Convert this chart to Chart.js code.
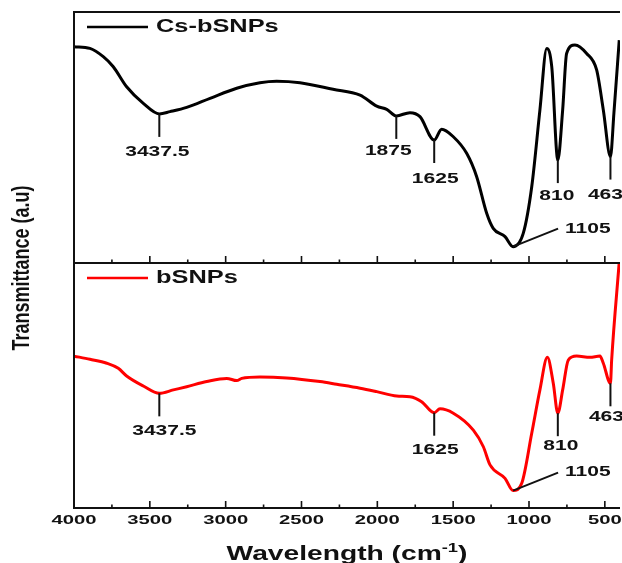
<!DOCTYPE html>
<html>
<head>
<meta charset="utf-8">
<script src="https://cdn.jsdelivr.net/npm/chart.js@4.4.1/dist/chart.umd.min.js"></script>
<style>
  html, body { margin: 0; padding: 0; background: #fff; }
  #ftir { display: block; }
</style>
</head>
<body>
<canvas id="ftir" width="622" height="563"></canvas>
<script>
// Cs-bSNPs spectrum (upper panel)
const csWave = [4000,3895,3807,3741,3653,3543,3437.5,3367,3257,3103,2927,2774,2664,2510,2292,2114,2004,1938,1875,1785,1719,1625,1576,1499,1411,1345,1279,1236,1158,1105,1038,982,928,883,850,810,778,752,697,620,554,510,463,440,405];
const csTrans = [86.2,85.5,82.2,78.2,70.2,63.6,59.4,60.3,62.0,65.6,69.6,71.8,72.4,71.8,69.2,66.9,62.5,61.2,58.6,59.9,58.3,49.0,53.3,50.3,43.7,34.4,19.8,13.8,10.5,6.5,11.8,30.4,61.0,85.5,78.2,41.0,61.0,83.5,86.9,83.5,76.9,61.0,42.4,59.8,88.8];

// bSNPs spectrum (lower panel)
const bsWave = [4000,3895,3784,3708,3653,3543,3437.5,3345,3257,3125,2993,2927,2894,2774,2598,2378,2268,2114,2004,1872,1785,1708,1625,1587,1499,1367,1301,1257,1158,1105,1048,982,928,879,840,810,778,741,686,598,532,510,463,455,405];
const bsTrans = [62.0,60.7,59.1,57.0,53.9,49.8,46.8,48.2,49.5,51.6,52.9,52.0,52.9,53.5,53.1,51.6,50.5,48.9,47.5,45.7,45.4,43.4,38.9,40.5,38.7,31.8,25.0,17.6,12.1,7.1,10.1,30.5,48.2,61.5,50.9,38.7,48.2,60.4,62.0,61.5,62.0,59.1,50.9,60.4,100.5];

// marked bands
const csPeaks = [3437.5,1875,1625,1105,810,463];
const bsPeaks = [3437.5,1625,1105,810,463];

const xTickValues = [4000,3500,3000,2500,2000,1500,1000,500];
const seriesNames = ['Cs-bSNPs','bSNPs'];

const FONT = '"Liberation Sans", Arial, sans-serif';

function stretchedText(ctx, s, x, y, size, align, sx) {
  ctx.save();
  ctx.translate(x, y);
  ctx.scale(sx, 1);
  ctx.font = `bold ${size}px ${FONT}`;
  ctx.textAlign = align;
  ctx.textBaseline = 'middle';
  ctx.fillStyle = '#111';
  ctx.fillText(s, 0, 0);
  ctx.restore();
}

// label offsets from the curve point (px)
const labelShift = {
  0: { 3437.5: [-2, 38], 1875: [-8, 35], 1625: [1, 39], 810: [-1, 36], 463: [-5, 39] },
  1: { 3437.5: [5, 38], 1625: [1, 37], 810: [3, 33], 463: [-4, 34] }
};

const framePlugin = {
  id: 'framePlugin',
  afterDatasetsDraw(chart) {
    const { ctx, chartArea, scales } = chart;
    const { left, right, top, bottom } = chartArea;
    const mid = scales.yTop.bottom;
    ctx.save();
    ctx.strokeStyle = '#111';
    ctx.lineWidth = 2;
    ctx.lineCap = 'butt';
    ctx.beginPath();
    ctx.moveTo(left, top - 1); ctx.lineTo(left, bottom + 1);
    ctx.moveTo(left, top); ctx.lineTo(right, top);
    ctx.moveTo(left, mid); ctx.lineTo(right, mid);
    ctx.moveTo(left, bottom); ctx.lineTo(right, bottom);
    ctx.stroke();

    // inward ticks on both panel bottoms
    ctx.lineWidth = 1.6;
    ctx.beginPath();
    for (let v = 500; v < 4000; v += 250) {
      const px = scales.x.getPixelForValue(v);
      const len = v % 500 === 0 ? 7 : 3.5;
      [mid, bottom].forEach((yy) => {
        ctx.moveTo(px, yy); ctx.lineTo(px, yy - len);
      });
    }
    ctx.stroke();

    xTickValues.forEach((v) => {
      stretchedText(ctx, String(v), scales.x.getPixelForValue(v), 520, 13.5, 'center', 1.5);
    });

    // x title with superscript
    ctx.font = `bold 20px ${FONT}`;
    const mainT = 'Wavelength (cm';
    const w1 = ctx.measureText(mainT).width;
    const w3 = ctx.measureText(')').width;
    ctx.font = `bold 13px ${FONT}`;
    const w2 = ctx.measureText('-1').width;
    const sx = 1.41;
    const total = (w1 + w2 + w3) * sx;
    ctx.save();
    ctx.translate((left + right) / 2 - total / 2 + 0, 560);
    ctx.scale(sx, 1);
    ctx.fillStyle = '#111';
    ctx.textBaseline = 'alphabetic';
    ctx.textAlign = 'left';
    ctx.font = `bold 20px ${FONT}`;
    ctx.fillText(mainT, 0, 0);
    ctx.font = `bold 13px ${FONT}`;
    ctx.fillText('-1', w1, -8);
    ctx.font = `bold 20px ${FONT}`;
    ctx.fillText(')', w1 + w2, 0);
    ctx.restore();

    // y title
    ctx.save();
    ctx.translate(22, 268);
    ctx.rotate(-Math.PI / 2);
    ctx.scale(1, 1.35);
    ctx.font = `bold 18px ${FONT}`;
    ctx.textAlign = 'center';
    ctx.textBaseline = 'middle';
    ctx.fillStyle = '#111';
    ctx.fillText('Transmittance (a.u)', 0, 0);
    ctx.restore();

    // legends
    const legendY = [top + 15, mid + 15];
    chart.data.datasets.forEach((ds, i) => {
      ctx.strokeStyle = ds.borderColor;
      ctx.lineWidth = 2.5;
      ctx.beginPath();
      ctx.moveTo(left + 13, legendY[i]);
      ctx.lineTo(left + 74, legendY[i]);
      ctx.stroke();
      stretchedText(ctx, seriesNames[i], left + 82, legendY[i], 17.5, 'left', 1.45);
    });

    // band markers
    const peakSets = [csPeaks, bsPeaks];
    ctx.strokeStyle = '#111';
    ctx.lineWidth = 2;
    chart.data.datasets.forEach((ds, i) => {
      const meta = chart.getDatasetMeta(i);
      peakSets[i].forEach((p) => {
        const idx = ds.data.findIndex((d) => d.x === p);
        const pt = meta.data[idx];
        const label = String(p);
        ctx.beginPath();
        if (p === 1105) {
          ctx.moveTo(pt.x, pt.y);
          ctx.lineTo(pt.x + 45, pt.y - 18);
          ctx.stroke();
          stretchedText(ctx, label, pt.x + 52, pt.y - 18, 14, 'left', 1.5);
        } else {
          ctx.moveTo(pt.x, pt.y);
          ctx.lineTo(pt.x, pt.y + 23);
          ctx.stroke();
          const [dx, dy] = labelShift[i][p];
          stretchedText(ctx, label, pt.x + dx, pt.y + dy, 14, 'center', 1.5);
        }
      });
    });
    ctx.restore();
  }
};

const toPoints = (xs, ys) => xs.map((x, i) => ({ x, y: ys[i] }));

new Chart(document.getElementById('ftir'), {
  type: 'line',
  data: {
    datasets: [
      { label: seriesNames[0], data: toPoints(csWave, csTrans), yAxisID: 'yTop', borderColor: '#000000', borderWidth: 3, pointRadius: 0, cubicInterpolationMode: 'monotone', fill: false },
      { label: seriesNames[1], data: toPoints(bsWave, bsTrans), yAxisID: 'yBot', borderColor: '#ff0000', borderWidth: 3, pointRadius: 0, cubicInterpolationMode: 'monotone', fill: false }
    ]
  },
  options: {
    responsive: false,
    animation: false,
    layout: { padding: { left: 74, right: 2, top: 12, bottom: 0 } },
    plugins: { legend: { display: false }, tooltip: { enabled: false } },
    scales: {
      x: {
        type: 'linear', min: 400, max: 4000, reverse: true,
        ticks: { display: false }, grid: { display: false }, border: { display: false },
        afterFit: (s) => { s.height = 55; }
      },
      yTop: { type: 'linear', position: 'left', stack: 'ftir', stackWeight: 251, weight: 2, min: 0, max: 100, display: false },
      yBot: { type: 'linear', position: 'left', stack: 'ftir', stackWeight: 245, weight: 1, min: 0, max: 100, display: false }
    }
  },
  plugins: [framePlugin]
});
</script>
</body>
</html>
